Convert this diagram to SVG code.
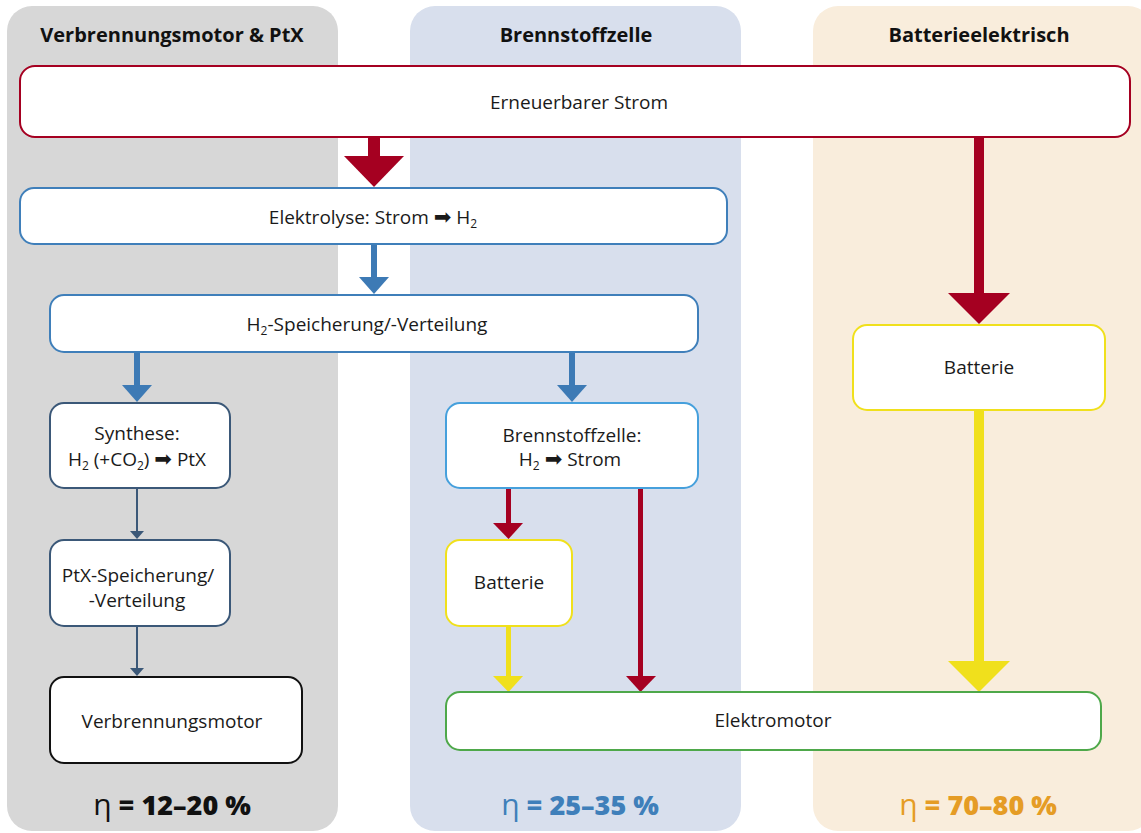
<svg xmlns="http://www.w3.org/2000/svg" width="1141" height="833" viewBox="0 0 1141 833">
<style>
.hdr{font-family:"Open Sans","Liberation Sans",sans-serif;font-weight:700;font-size:20px;fill:#111;text-anchor:middle}
.lbl{font-family:"Open Sans","Liberation Sans",sans-serif;font-weight:400;font-size:19px;fill:#1a1a1a;text-anchor:middle}
.eff{font-family:"Open Sans","Liberation Sans",sans-serif;font-weight:800;font-size:27px;text-anchor:middle}
.eta{font-weight:400;font-size:30px}
.box{fill:#fff;stroke-width:2}
.arr{font-family:"DejaVu Sans",sans-serif;font-size:21px}
.sub{font-size:12px}
</style>
<g id="panels">
<rect x="7" y="6" width="331" height="825" rx="25" fill="#d7d7d7"/>
<rect x="410" y="6" width="331" height="825" rx="25" fill="#d8dfed"/>
<rect x="813" y="6" width="340" height="825" rx="25" fill="#f9eddc"/>
<text class="hdr" x="172" y="42">Verbrennungsmotor &amp; PtX</text>
<text class="hdr" x="576" y="42">Brennstoffzelle</text>
<text class="hdr" x="979" y="42">Batterieelektrisch</text>
</g>
<g id="connectors">
<rect x="368" y="137" width="12" height="20" fill="#a50021"/>
<path d="M344,156 L404,156 L374,187 Z" fill="#a50021"/>
<rect x="974" y="137" width="10" height="157" fill="#a50021"/>
<path d="M948,293 L1010,293 L979,324 Z" fill="#a50021"/>
<rect x="974" y="410" width="10" height="252" fill="#f0e01c"/>
<path d="M948,661 L1010,661 L979,692 Z" fill="#f0e01c"/>
<rect x="371" y="244" width="6" height="34" fill="#3d7ab5"/>
<path d="M359,277 L389,277 L374,294 Z" fill="#3d7ab5"/>
<rect x="134" y="352" width="6" height="34" fill="#3d7ab5"/>
<path d="M122,385 L152,385 L137,402 Z" fill="#3d7ab5"/>
<rect x="569" y="352" width="6" height="34" fill="#3d7ab5"/>
<path d="M557,385 L587,385 L572,402 Z" fill="#3d7ab5"/>
<line x1="137" y1="488" x2="137" y2="532" stroke="#3b5878" stroke-width="2"/>
<path d="M130,531 L144,531 L137,539 Z" fill="#3b5878"/>
<line x1="137" y1="626" x2="137" y2="669" stroke="#3b5878" stroke-width="2"/>
<path d="M130,668 L144,668 L137,676 Z" fill="#3b5878"/>
<rect x="506" y="488" width="5" height="36" fill="#a50021"/>
<path d="M493,523 L523,523 L508.5,539 Z" fill="#a50021"/>
<rect x="638" y="488" width="5" height="189" fill="#a50021"/>
<path d="M626,676 L656,676 L640.5,692 Z" fill="#a50021"/>
<rect x="506" y="626" width="5" height="51" fill="#f0e01c"/>
<path d="M493,676 L523,676 L508.5,692 Z" fill="#f0e01c"/>
</g>
<g id="n-strom">
<rect class="box" x="20" y="66" width="1110" height="71" rx="15" stroke="#a50021"/>
<text class="lbl" x="579" y="109">Erneuerbarer Strom</text>
</g>
<g id="n-elektrolyse">
<rect class="box" x="20" y="188" width="707" height="56" rx="14" stroke="#3f7fba"/>
<text class="lbl" x="373" y="224">Elektrolyse: Strom <tspan class="arr">➡</tspan> H<tspan class="sub" dy="4">2</tspan></text>
</g>
<g id="n-h2speicher">
<rect class="box" x="50" y="295" width="648" height="57" rx="14" stroke="#3f7fba"/>
<text class="lbl" x="367" y="331">H<tspan class="sub" dy="4">2</tspan><tspan dy="-4">-Speicherung/-Verteilung</tspan></text>
</g>
<g id="n-synthese">
<rect class="box" x="50" y="403" width="180" height="85" rx="14" stroke="#3b5878"/>
<text class="lbl" x="137" y="440">Synthese:</text>
<text class="lbl" x="137" y="466">H<tspan class="sub" dy="4">2</tspan><tspan dy="-4"> (+CO</tspan><tspan class="sub" dy="4">2</tspan><tspan dy="-4">) </tspan><tspan class="arr">➡</tspan> PtX</text>
</g>
<g id="n-ptx">
<rect class="box" x="50" y="540" width="180" height="86" rx="14" stroke="#3b5878"/>
<text class="lbl" x="138" y="582">PtX-Speicherung/</text>
<text class="lbl" x="137" y="607">-Verteilung</text>
</g>
<g id="n-vm">
<rect class="box" x="50" y="677" width="252" height="86" rx="14" stroke="#111"/>
<text class="lbl" x="172" y="728">Verbrennungsmotor</text>
</g>
<g id="n-bz">
<rect class="box" x="446" y="403" width="252" height="85" rx="14" stroke="#46a0dc"/>
<text class="lbl" x="572" y="442">Brennstoffzelle:</text>
<text class="lbl" x="570" y="466">H<tspan class="sub" dy="4">2</tspan><tspan dy="-4"> </tspan><tspan class="arr">➡</tspan> Strom</text>
</g>
<g id="n-batt1">
<rect class="box" x="446" y="540" width="126" height="86" rx="14" stroke="#f0e01c"/>
<text class="lbl" x="509" y="589">Batterie</text>
</g>
<g id="n-batt2">
<rect class="box" x="853" y="325" width="252" height="85" rx="14" stroke="#f0e01c"/>
<text class="lbl" x="979" y="374">Batterie</text>
</g>
<g id="n-em">
<rect class="box" x="446" y="692" width="655" height="58" rx="14" stroke="#4ea84a"/>
<text class="lbl" x="773" y="727">Elektromotor</text>
</g>
<g id="efficiency">
<text class="eff" x="172" y="815" fill="#111"><tspan class="eta">η</tspan> = 12–20 %</text>
<text class="eff" x="580" y="815" fill="#3f7fba"><tspan class="eta">η</tspan> = 25–35 %</text>
<text class="eff" x="978" y="815" fill="#e59c25"><tspan class="eta">η</tspan> = 70–80 %</text>
</g>
</svg>
